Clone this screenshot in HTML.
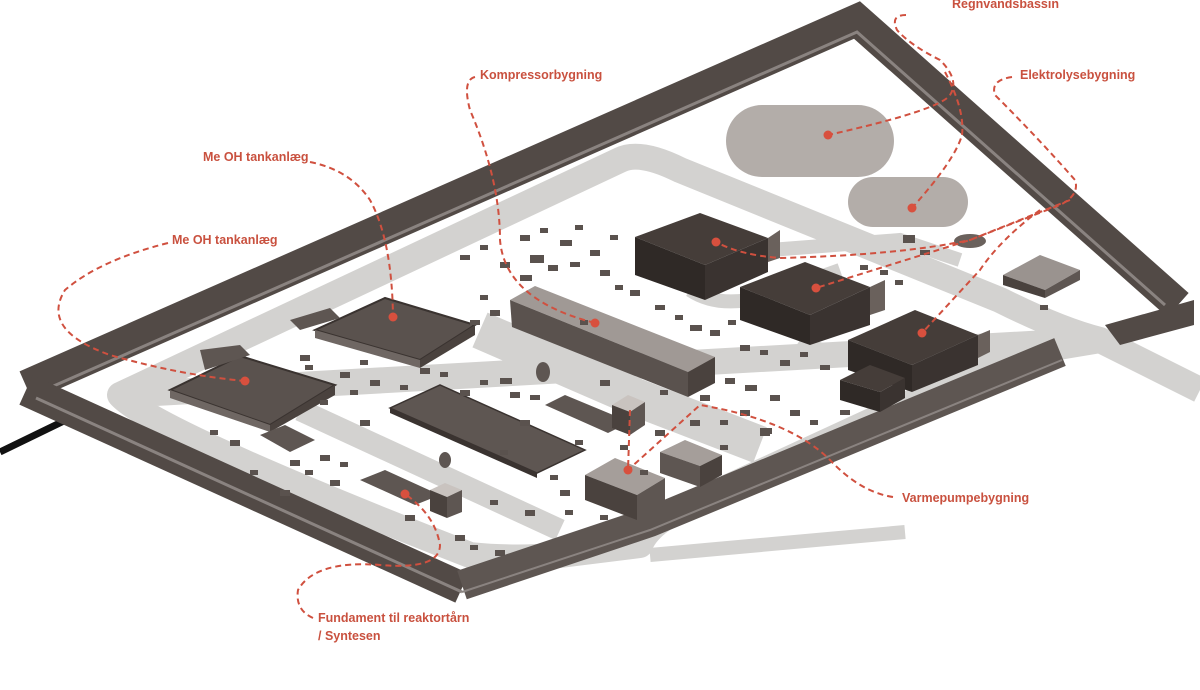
<!DOCTYPE html>
<html><head><meta charset="utf-8"><style>
html,body{margin:0;padding:0;background:#fff;width:1200px;height:690px;overflow:hidden}
svg{display:block}
.l{font-family:"Liberation Sans",sans-serif;font-weight:bold;font-size:12.5px;fill:#c9513f}
.d{fill:none;stroke:#d0503f;stroke-width:2;stroke-dasharray:6 4}
.dot{fill:#d8503e}
.b{fill:#5a524e}
</style></head><body>
<svg width="1200" height="690" viewBox="0 0 1200 690" xmlns="http://www.w3.org/2000/svg">
<line x1="0" y1="452" x2="70" y2="418" stroke="#111" stroke-width="7"/>
<line x1="620" y1="150" x2="640" y2="160" stroke="#111" stroke-width="3"/>
<!-- road loop -->
<path d="M120,395 L620,160 Q640,150 680,170 L1000,300 Q1060,330 1100,340 L1200,390 M1100,340 L1040,350 Q1000,360 960,380 L700,500 Q650,520 640,545 L560,555 Q520,560 470,555 Q150,430 120,395 Z" fill="none" stroke="#d3d2d0" stroke-width="26" stroke-linejoin="round"/>
<path d="M650,555 L905,532" stroke="#d3d2d0" stroke-width="14"/>
<path d="M300,410 L560,530" stroke="#d3d2d0" stroke-width="22"/>
<path d="M480,330 L630,395 L760,445" stroke="#d3d2d0" stroke-width="38"/>
<path d="M690,290 Q720,310 770,295 L840,270 M800,340 Q830,360 860,345 M770,250 L900,240 L960,260" stroke="#d3d2d0" stroke-width="14" fill="none"/>
<!-- pools -->
<rect x="726" y="105" width="168" height="72" rx="36" fill="#b3ada9"/>
<rect x="848" y="177" width="120" height="50" rx="25" fill="#b3ada9"/>
<ellipse cx="970" cy="241" rx="16" ry="7" fill="#6a615c"/>
<!-- wall -->
<g>
<path d="M26,386 L857,20 L1178,305" fill="none" stroke="#524a46" stroke-width="32" stroke-linejoin="miter"/>
<path d="M40,392 L857,32 L1165,305" fill="none" stroke="#8a8380" stroke-width="3"/>
<path d="M26,390 L462,588" fill="none" stroke="#524a46" stroke-width="32"/>
<path d="M36,398 L462,592" fill="none" stroke="#8a8380" stroke-width="3"/>
<path d="M462,585 L650,522 L1060,352" fill="none" stroke="#5e5652" stroke-width="30"/>
<path d="M462,592 L650,530 L1062,360" fill="none" stroke="#8a8380" stroke-width="2"/>
<path d="M1105,325 L1194,300 L1194,325 L1120,345 Z" fill="#524a46"/>
</g>
<!-- right small building -->
<polygon points="1003,275 1040,255 1080,270 1045,290" fill="#9a938f"/>
<polygon points="1003,275 1045,290 1045,298 1003,285" fill="#4a423e"/>
<polygon points="1045,290 1080,270 1080,280 1045,298" fill="#5e5652"/>
<!-- Me OH tanks -->
<polygon points="315,330 385,298 475,325 420,360" fill="#5a524e" stroke="#3a3330" stroke-width="2"/>
<polygon points="420,360 475,325 475,335 420,368" fill="#4a423e"/>
<polygon points="315,330 420,360 420,368 315,338" fill="#6f6763"/>
<polygon points="170,390 240,356 335,385 270,425" fill="#5a524e" stroke="#3a3330" stroke-width="2"/>
<polygon points="270,425 335,385 335,395 270,432" fill="#4a423e"/>
<polygon points="170,390 270,425 270,432 170,398" fill="#6f6763"/>
<polygon points="200,350 240,345 250,355 205,370" fill="#5e5652"/>
<polygon points="290,320 330,308 340,318 300,330" fill="#5e5652"/>
<!-- grid area -->
<polygon points="390,408 440,385 585,450 537,473" fill="#5e5652" stroke="#3a3330" stroke-width="1.5"/>
<polygon points="390,408 537,473 537,478 390,413" fill="#3a3330"/>
<polygon points="545,405 565,395 630,422 608,433" fill="#5e5652"/>
<polygon points="260,435 285,425 315,440 290,452" fill="#5e5652"/>
<polygon points="360,480 385,470 440,495 415,505" fill="#5e5652"/>
<!-- compressor building -->
<polygon points="510,300 535,286 715,357 688,372" fill="#a09995"/>
<polygon points="510,300 688,372 688,397 512,327" fill="#5a524e"/>
<polygon points="688,372 715,357 715,383 688,397" fill="#4a423e"/>
<!-- electrolysis halls -->
<g>
<polygon points="635,237 700,213 768,238 705,265" fill="#453d39"/>
<polygon points="635,237 705,265 705,300 635,275" fill="#2f2926"/>
<polygon points="705,265 768,238 768,272 705,300" fill="#3a3330"/>
<polygon points="740,287 805,262 870,287 810,315" fill="#453d39"/>
<polygon points="740,287 810,315 810,345 740,320" fill="#2f2926"/>
<polygon points="810,315 870,287 870,325 810,345" fill="#3a3330"/>
<polygon points="848,340 915,310 978,335 912,365" fill="#453d39"/>
<polygon points="848,340 912,365 912,392 848,370" fill="#2f2926"/>
<polygon points="912,365 978,335 978,365 912,392" fill="#3a3330"/>
<polygon points="840,380 870,365 905,378 880,392" fill="#453d39"/>
<polygon points="840,380 880,392 880,412 840,400" fill="#2f2926"/>
<polygon points="880,392 905,378 905,398 880,412" fill="#3a3330"/>
<polygon points="768,238 780,230 780,258 768,262" fill="#6a615c"/>
<polygon points="870,287 885,280 885,310 870,315" fill="#6a615c"/>
<polygon points="978,335 990,330 990,352 978,358" fill="#6a615c"/>
</g>
<!-- small buildings -->
<polygon points="612,405 628,395 645,402 630,412" fill="#c9c3bf"/>
<polygon points="612,405 630,412 630,435 612,428" fill="#4a423e"/>
<polygon points="630,412 645,402 645,425 630,435" fill="#5e5652"/>
<polygon points="585,475 615,458 665,478 637,495" fill="#a59e9a"/>
<polygon points="585,475 637,495 637,520 585,500" fill="#4a423e"/>
<polygon points="637,495 665,478 665,505 637,520" fill="#5e5652"/>
<polygon points="660,452 685,440 722,455 700,466" fill="#a59e9a"/>
<polygon points="660,452 700,466 700,487 660,473" fill="#5e5652"/>
<polygon points="700,466 722,455 722,475 700,487" fill="#4a423e"/>
<polygon points="430,490 445,483 462,490 447,497" fill="#c9c3bf"/>
<polygon points="430,490 447,497 447,518 430,511" fill="#4a423e"/>
<polygon points="447,497 462,490 462,512 447,518" fill="#5e5652"/>
<ellipse cx="543" cy="372" rx="7" ry="10" fill="#5e5652"/>
<ellipse cx="445" cy="460" rx="6" ry="8" fill="#5e5652"/>
<!-- scattered boxes -->
<g class="b">
<rect x="460" y="255" width="10" height="5"/><rect x="480" y="245" width="8" height="5"/><rect x="500" y="262" width="10" height="6"/><rect x="540" y="228" width="8" height="5"/><rect x="560" y="240" width="12" height="6"/><rect x="575" y="225" width="8" height="5"/><rect x="590" y="250" width="10" height="6"/><rect x="610" y="235" width="8" height="5"/><rect x="530" y="255" width="14" height="8"/><rect x="548" y="265" width="10" height="6"/><rect x="570" y="262" width="10" height="5"/><rect x="520" y="275" width="12" height="6"/><rect x="600" y="270" width="10" height="6"/><rect x="615" y="285" width="8" height="5"/><rect x="630" y="290" width="10" height="6"/><rect x="490" y="310" width="10" height="6"/><rect x="480" y="295" width="8" height="5"/><rect x="655" y="305" width="10" height="5"/><rect x="675" y="315" width="8" height="5"/><rect x="690" y="325" width="12" height="6"/><rect x="710" y="330" width="10" height="6"/><rect x="728" y="320" width="8" height="5"/><rect x="740" y="345" width="10" height="6"/><rect x="760" y="350" width="8" height="5"/><rect x="780" y="360" width="10" height="6"/><rect x="800" y="352" width="8" height="5"/><rect x="820" y="365" width="10" height="5"/><rect x="725" y="378" width="10" height="6"/><rect x="745" y="385" width="12" height="6"/><rect x="770" y="395" width="10" height="6"/><rect x="790" y="410" width="10" height="6"/><rect x="810" y="420" width="8" height="5"/><rect x="740" y="410" width="10" height="6"/><rect x="760" y="428" width="12" height="6"/><rect x="720" y="420" width="8" height="5"/><rect x="690" y="420" width="10" height="6"/><rect x="655" y="430" width="10" height="6"/><rect x="720" y="445" width="8" height="5"/><rect x="640" y="470" width="8" height="5"/><rect x="560" y="490" width="10" height="6"/><rect x="565" y="510" width="8" height="5"/><rect x="600" y="515" width="8" height="5"/><rect x="550" y="475" width="8" height="5"/><rect x="500" y="378" width="12" height="6"/><rect x="510" y="392" width="10" height="6"/><rect x="530" y="395" width="10" height="5"/><rect x="480" y="380" width="8" height="5"/><rect x="460" y="390" width="10" height="6"/><rect x="440" y="372" width="8" height="5"/><rect x="420" y="368" width="10" height="6"/><rect x="400" y="385" width="8" height="5"/><rect x="370" y="380" width="10" height="6"/><rect x="350" y="390" width="8" height="5"/><rect x="340" y="372" width="10" height="6"/><rect x="360" y="360" width="8" height="5"/><rect x="300" y="355" width="10" height="6"/><rect x="305" y="365" width="8" height="5"/><rect x="320" y="400" width="8" height="5"/><rect x="210" y="430" width="8" height="5"/><rect x="230" y="440" width="10" height="6"/><rect x="290" y="460" width="10" height="6"/><rect x="305" y="470" width="8" height="5"/><rect x="320" y="455" width="10" height="6"/><rect x="340" y="462" width="8" height="5"/><rect x="330" y="480" width="10" height="6"/><rect x="250" y="470" width="8" height="5"/><rect x="405" y="515" width="10" height="6"/><rect x="455" y="535" width="10" height="6"/><rect x="470" y="545" width="8" height="5"/><rect x="495" y="550" width="10" height="6"/><rect x="580" y="320" width="8" height="5"/><rect x="470" y="320" width="10" height="5"/><rect x="520" y="235" width="10" height="6"/><rect x="903" y="235" width="12" height="8"/><rect x="920" y="250" width="10" height="5"/><rect x="880" y="270" width="8" height="5"/><rect x="895" y="280" width="8" height="5"/><rect x="860" y="265" width="8" height="5"/><rect x="1040" y="305" width="8" height="5"/><rect x="840" y="410" width="10" height="5"/><rect x="760" y="430" width="10" height="6"/><rect x="500" y="450" width="8" height="5"/><rect x="620" y="445" width="8" height="5"/>
<rect x="520" y="420" width="10" height="6"/><rect x="575" y="440" width="8" height="5"/><rect x="360" y="420" width="10" height="6"/><rect x="280" y="490" width="10" height="6"/><rect x="490" y="500" width="8" height="5"/><rect x="525" y="510" width="10" height="6"/><rect x="600" y="380" width="10" height="6"/><rect x="660" y="390" width="8" height="5"/><rect x="700" y="395" width="10" height="6"/>
</g>
<!-- connectors -->
<path class="d" d="M906,15 Q890,15 897,30 Q910,45 940,60 Q960,80 950,95 Q940,110 828,135"/>
<path class="d" d="M945,72 Q965,110 962,135 Q955,160 912,208"/>
<path class="d" d="M1012,77 Q990,80 995,95 Q1040,140 1075,180 Q1080,195 1060,205 L970,240 Q900,255 780,258 Q740,255 716,242"/>
<path class="d" d="M1070,200 L970,240 L816,288"/>
<path class="d" d="M1040,210 Q1000,240 980,270 L922,333"/>
<path class="d" d="M475,77 Q462,80 470,110 Q500,180 500,240 Q505,300 595,323"/>
<path class="d" d="M310,162 Q350,170 370,200 Q392,240 393,317"/>
<path class="d" d="M168,243 Q100,260 65,290 Q40,330 110,355 Q180,375 245,381"/>
<path class="d" d="M893,497 Q860,492 830,460 Q790,420 700,405 L628,470"/>
<path class="d" d="M630,410 L628,470"/>
<path class="d" d="M313,618 Q295,610 298,590 Q315,560 380,565 Q440,570 440,545 Q435,515 405,494"/>
<circle class="dot" cx="828" cy="135" r="4.5"/>
<circle class="dot" cx="912" cy="208" r="4.5"/>
<circle class="dot" cx="716" cy="242" r="4.5"/>
<circle class="dot" cx="816" cy="288" r="4.5"/>
<circle class="dot" cx="922" cy="333" r="4.5"/>
<circle class="dot" cx="595" cy="323" r="4.5"/>
<circle class="dot" cx="393" cy="317" r="4.5"/>
<circle class="dot" cx="245" cy="381" r="4.5"/>
<circle class="dot" cx="628" cy="470" r="4.5"/>
<circle class="dot" cx="405" cy="494" r="4.5"/>
<text class="l" x="952" y="8">Regnvandsbassin</text>
<text class="l" x="480" y="79">Kompressorbygning</text>
<text class="l" x="1020" y="79">Elektrolysebygning</text>
<text class="l" x="203" y="161">Me OH tankanlæg</text>
<text class="l" x="172" y="244">Me OH tankanlæg</text>
<text class="l" x="902" y="502">Varmepumpebygning</text>
<text class="l" x="318" y="622">Fundament til reaktortårn</text>
<text class="l" x="318" y="640">/ Syntesen</text>
</svg>
</body></html>
